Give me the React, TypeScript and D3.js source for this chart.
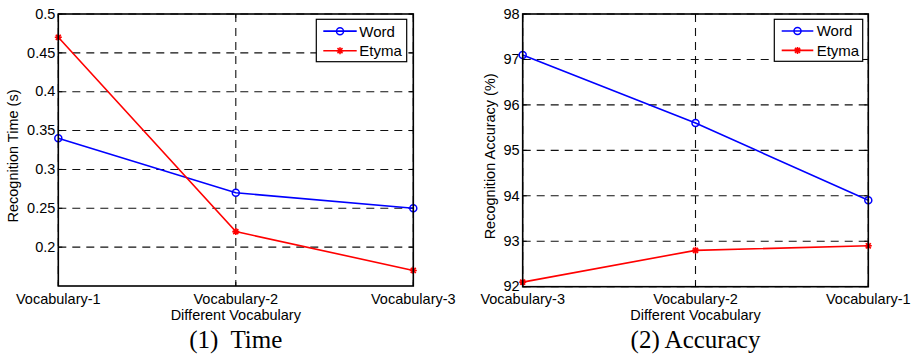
import * as d3 from "d3";

const timeCats = ["Vocabulary-1", "Vocabulary-2", "Vocabulary-3"];
const timeWord = [0.34, 0.27, 0.25];
const timeEtyma = [0.47, 0.22, 0.17];
const timeTicks = [0.2, 0.25, 0.3, 0.35, 0.4, 0.45, 0.5];

const accCats = ["Vocabulary-3", "Vocabulary-2", "Vocabulary-1"];
const accWord = [97.1, 95.6, 93.9];
const accEtyma = [92.1, 92.8, 92.9];
const accTicks = [92, 93, 94, 95, 96, 97, 98];

const FONT = "'Liberation Sans', Arial, sans-serif";
const BLUE = "#0000ff";
const RED = "#ff0000";

function Star({ x, y, r = 3.5 }: { x: number; y: number; r?: number }) {
  const d = r * 0.72;
  return (
    <path
      d={`M${x - r},${y}H${x + r}M${x},${y - r}V${y + r}M${x - d},${y - d}L${x + d},${y + d}M${x - d},${y + d}L${x + d},${y - d}`}
      stroke={RED}
      strokeWidth={1.6}
      fill="none"
    />
  );
}

type PanelProps = {
  left: number;
  right: number;
  top: number;
  bottom: number;
  cats: string[];
  word: number[];
  etyma: number[];
  ticks: number[];
  domain: [number, number];
  yLabel: string;
  yLabelX: number;
  tickFmt: (v: number) => string;
  legend: { x0: number; x1: number; y0: number; y1: number; lx0: number; lx1: number; tx: number };
  title: string;
};

function Panel(p: PanelProps) {
  const x = d3.scalePoint<string>().domain(p.cats).range([p.left, p.right]);
  const y = d3.scaleLinear().domain(p.domain).range([p.bottom, p.top]);
  const line = d3
    .line<number>()
    .x((_, i) => x(p.cats[i])!)
    .y((d) => y(d));
  const midY = (p.top + p.bottom) / 2;
  const cx = (p.left + p.right) / 2;
  const lg = p.legend;
  const row1 = lg.y0 + (lg.y1 - lg.y0) * 0.28;
  const row2 = lg.y0 + (lg.y1 - lg.y0) * 0.74;
  const lm = (lg.lx0 + lg.lx1) / 2;

  return (
    <g>
      {/* grid */}
      {p.ticks.map((t) => (
        <line
          key={"h" + t}
          x1={p.left}
          x2={p.right}
          y1={y(t)}
          y2={y(t)}
          stroke="#111"
          strokeWidth={1.1}
          strokeDasharray="8,6"
        />
      ))}
      {p.cats.map((c) => (
        <line
          key={"v" + c}
          x1={x(c)}
          x2={x(c)}
          y1={p.top}
          y2={p.bottom}
          stroke="#111"
          strokeWidth={1.1}
          strokeDasharray="8,6"
        />
      ))}
      {/* ticks */}
      {p.ticks.map((t) => (
        <g key={"t" + t}>
          <line x1={p.left} x2={p.left + 4} y1={y(t)} y2={y(t)} stroke="#000" />
          <line x1={p.right} x2={p.right - 4} y1={y(t)} y2={y(t)} stroke="#000" />
          <text
            x={p.left - 3}
            y={y(t) - 0.5}
            dy="0.36em"
            textAnchor="end"
            fontSize={14.5}
            fontFamily={FONT}
            fill="#000"
          >
            {p.tickFmt(t)}
          </text>
        </g>
      ))}
      {p.cats.map((c) => (
        <g key={"x" + c}>
          <line x1={x(c)} x2={x(c)} y1={p.bottom} y2={p.bottom - 4} stroke="#000" />
          <line x1={x(c)} x2={x(c)} y1={p.top} y2={p.top + 4} stroke="#000" />
          <text x={x(c)} y={304} textAnchor="middle" fontSize={14.5} fontFamily={FONT} fill="#000">
            {c}
          </text>
        </g>
      ))}
      {/* series */}
      <path d={line(p.word)!} fill="none" stroke={BLUE} strokeWidth={1.6} />
      <path d={line(p.etyma)!} fill="none" stroke={RED} strokeWidth={1.6} />
      {p.word.map((v, i) => (
        <circle key={"w" + i} cx={x(p.cats[i])} cy={y(v)} r={3.5} fill="none" stroke={BLUE} strokeWidth={1.5} />
      ))}
      {p.etyma.map((v, i) => (
        <Star key={"e" + i} x={x(p.cats[i])!} y={y(v)} />
      ))}
      {/* box */}
      <rect
        x={p.left}
        y={p.top}
        width={p.right - p.left}
        height={p.bottom - p.top}
        fill="none"
        stroke="#000"
        strokeWidth={1.6}
      />
      {/* legend */}
      <rect x={lg.x0} y={lg.y0} width={lg.x1 - lg.x0} height={lg.y1 - lg.y0} fill="#fff" stroke="#000" strokeWidth={1.2} />
      <line x1={lg.lx0} x2={lg.lx1} y1={row1} y2={row1} stroke={BLUE} strokeWidth={1.6} />
      <circle cx={lm} cy={row1} r={3.5} fill="none" stroke={BLUE} strokeWidth={1.5} />
      <text x={lg.tx} y={row1} dy="0.36em" fontSize={15} fontFamily={FONT}>
        Word
      </text>
      <line x1={lg.lx0} x2={lg.lx1} y1={row2} y2={row2} stroke={RED} strokeWidth={1.6} />
      <Star x={lm} y={row2} />
      <text x={lg.tx} y={row2} dy="0.36em" fontSize={15} fontFamily={FONT}>
        Etyma
      </text>
      {/* labels */}
      <text
        transform={`translate(${p.yLabelX},${midY + 6}) rotate(-90)`}
        dy="0.36em"
        textAnchor="middle"
        fontSize={14.5}
        fontFamily={FONT}
      >
        {p.yLabel}
      </text>
      <text x={cx} y={320} textAnchor="middle" fontSize={14.5} fontFamily={FONT}>
        Different Vocabulary
      </text>
      <text
        x={cx}
        y={348}
        textAnchor="middle"
        fontSize={25}
        fontFamily="'Liberation Serif', 'Times New Roman', serif"
        style={{ whiteSpace: "pre" }}
      >
        {p.title}
      </text>
    </g>
  );
}

export default function App() {
  return (
    <svg
      width={917}
      height={355}
      style={{ position: "absolute", left: 0, top: 0, background: "#fff" }}
    >
      <rect width={917} height={355} fill="#fff" />
      <Panel
        left={58.3}
        right={413.3}
        top={14}
        bottom={286}
        cats={timeCats}
        word={timeWord}
        etyma={timeEtyma}
        ticks={timeTicks}
        domain={[0.15, 0.5]}
        yLabel="Recognition Time (s)"
        yLabelX={13}
        tickFmt={(v) => String(+v.toFixed(2))}
        legend={{ x0: 316.3, x1: 406.7, y0: 19.3, y1: 61.7, lx0: 323.3, lx1: 356.7, tx: 359.3 }}
        title={"(1)  Time"}
      />
      <Panel
        left={522.7}
        right={868.3}
        top={14}
        bottom={286.7}
        cats={accCats}
        word={accWord}
        etyma={accEtyma}
        ticks={accTicks}
        domain={[92, 98]}
        yLabel="Recognition Accuracy (%)"
        yLabelX={490}
        tickFmt={(v) => String(v)}
        legend={{ x0: 774.3, x1: 862.7, y0: 19.3, y1: 61.3, lx0: 781.7, lx1: 813.3, tx: 816.7 }}
        title="(2) Accuracy"
      />
    </svg>
  );
}
